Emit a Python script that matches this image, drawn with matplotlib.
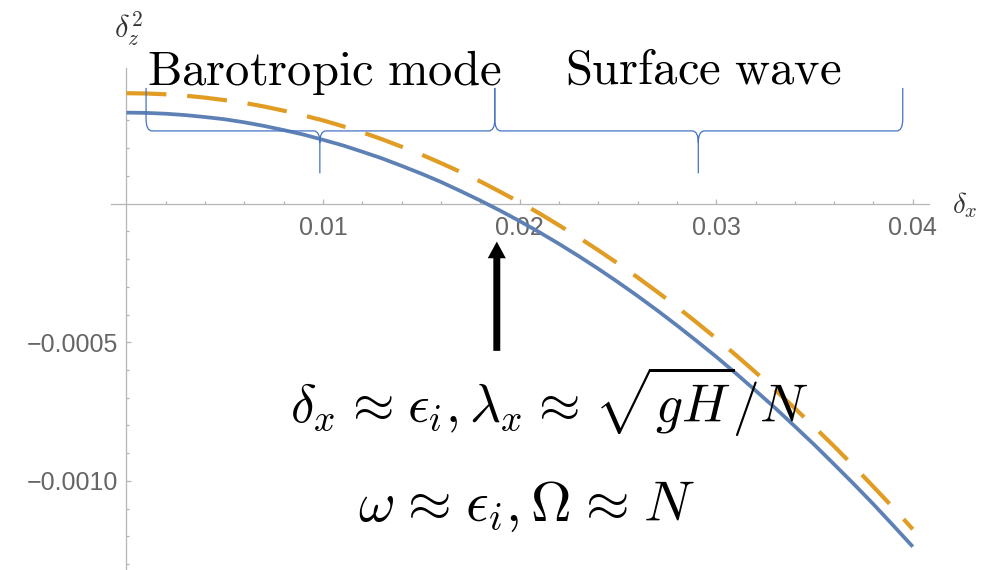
import numpy as np
import matplotlib
matplotlib.use("Agg")
import matplotlib.pyplot as plt
from matplotlib.path import Path
from matplotlib.patches import PathPatch
from matplotlib.ticker import FixedLocator, FixedFormatter

plt.rcParams['mathtext.fontset'] = 'cm'

# ---- data ----
delta_x = [0.000, 0.001, 0.002, 0.003, 0.004, 0.005, 0.006, 0.007, 0.008, 0.009,
           0.010, 0.011, 0.012, 0.013, 0.014, 0.015, 0.016, 0.017, 0.018, 0.019,
           0.020, 0.021, 0.022, 0.023, 0.024, 0.025, 0.026, 0.027, 0.028, 0.029,
           0.030, 0.031, 0.032, 0.033, 0.034, 0.035, 0.036, 0.037, 0.038, 0.039, 0.040]
blue_vals = [0.000328, 0.000327, 0.000324, 0.000319, 0.000312, 0.000304, 0.000293,
             0.000280, 0.000265, 0.000249, 0.000230, 0.000210, 0.000187, 0.000163,
             0.000136, 0.000108, 0.000078, 0.000045, 0.000011, -0.000025, -0.000063,
             -0.000103, -0.000145, -0.000189, -0.000235, -0.000283, -0.000333, -0.000385,
             -0.000439, -0.000495, -0.000552, -0.000612, -0.000674, -0.000737, -0.000803,
             -0.000870, -0.000940, -0.001011, -0.001084, -0.001160, -0.001237]
orange_vals = [0.000398, 0.000397, 0.000394, 0.000389, 0.000382, 0.000373, 0.000363,
               0.000350, 0.000335, 0.000318, 0.000300, 0.000279, 0.000257, 0.000232,
               0.000205, 0.000177, 0.000146, 0.000114, 0.000080, 0.000043, 0.000005,
               -0.000035, -0.000078, -0.000122, -0.000168, -0.000216, -0.000266, -0.000318,
               -0.000372, -0.000428, -0.000486, -0.000546, -0.000608, -0.000672, -0.000738,
               -0.000806, -0.000875, -0.000947, -0.001021, -0.001096, -0.001174]
x_major = [0.01, 0.02, 0.03, 0.04]
x_major_labels = ["0.01", "0.02", "0.03", "0.04"]
y_major = [-0.0010, -0.0005]
y_major_labels = ["\u22120.0010", "\u22120.0005"]

BLUE = '#5E81B5'
ORANGE = '#E19C24'
AXIS = '#b5b5b5'
TICKTXT = '#666666'
BRACE = '#4472C4'

W, H = 981, 570
fig = plt.figure(figsize=(W / 100, H / 100), dpi=100)
ax = fig.add_axes([0, 0, 1, 1])
ax.set_xlim(-0.00643, 0.04347)
ax.set_ylim(-0.001321, 0.000734)

ax.plot(delta_x, blue_vals, color=BLUE, lw=2.7, solid_capstyle='butt',
        solid_joinstyle='round', zorder=3)
ln, = ax.plot(delta_x, orange_vals, color=ORANGE, lw=3.0, zorder=3)
ln.set_dashes((9.6, 5.0))
ln.set_dash_capstyle('butt')

# axes through origin
for s in ['top', 'right']:
    ax.spines[s].set_visible(False)
ax.spines['left'].set_position(('data', 0))
ax.spines['bottom'].set_position(('data', 0))
ax.spines['left'].set_bounds(-0.00135, 0.000489)
ax.spines['bottom'].set_bounds(-0.0008, 0.0408)
for s in ['left', 'bottom']:
    ax.spines[s].set_color(AXIS)
    ax.spines[s].set_linewidth(0.9)

ax.xaxis.set_major_locator(FixedLocator(x_major))
ax.xaxis.set_major_formatter(FixedFormatter(x_major_labels))
ax.xaxis.set_minor_locator(FixedLocator([0.002 * k for k in range(1, 21) if k % 5 != 0]))
ax.yaxis.set_major_locator(FixedLocator(y_major))
ax.yaxis.set_major_formatter(FixedFormatter(y_major_labels))
ax.yaxis.set_minor_locator(FixedLocator([0.0001 * k for k in range(-13, 5) if k % 5 != 0]))

ax.tick_params(axis='both', which='both', direction='in', color=AXIS, width=0.9)
ax.tick_params(axis='both', which='major', length=3.3)
ax.tick_params(axis='both', which='minor', length=2.0)
ax.tick_params(axis='x', which='major', pad=9.0, labelsize=18, labelcolor=TICKTXT)
ax.tick_params(axis='y', which='major', pad=6, labelsize=18, labelcolor=TICKTXT)
for lab in ax.get_xticklabels() + ax.get_yticklabels():
    lab.set_fontfamily('Liberation Sans')


# braces
def brace(x0, x1, xc, y_top, y_mid, y_tip, rh=0.00031, rv=0.000043):
    verts = [(x0, y_top), (x0, y_mid + rv), (x0, y_mid), (x0 + rh, y_mid),
             (xc - rh, y_mid), (xc, y_mid), (xc, y_mid - rv), (xc, y_tip),
             (xc, y_mid - rv), (xc, y_mid), (xc + rh, y_mid),
             (x1 - rh, y_mid), (x1, y_mid), (x1, y_mid + rv), (x1, y_top)]
    codes = [Path.MOVETO, Path.LINETO, Path.CURVE3, Path.CURVE3,
             Path.LINETO, Path.CURVE3, Path.CURVE3, Path.LINETO,
             Path.MOVETO, Path.CURVE3, Path.CURVE3,
             Path.LINETO, Path.CURVE3, Path.CURVE3, Path.LINETO]
    ax.add_patch(PathPatch(Path(verts, codes), fill=False, edgecolor=BRACE, lw=0.9, zorder=4))


brace(0.00100, 0.01874, 0.00984, 0.000417, 0.000262, 0.000109)
brace(0.01874, 0.03949, 0.02909, 0.000417, 0.000262, 0.000109)

# arrow
ax.annotate('', xy=(0.01884, -0.000137), xytext=(0.01884, -0.000531),
            arrowprops=dict(arrowstyle='simple,head_length=12,head_width=13,tail_width=5',
                            mutation_scale=1, color='black', lw=0,
                            shrinkA=0, shrinkB=0), zorder=5)


def px(x, y):
    return x / W, 1 - y / H


ax.text(*px(147, 85), r'$\mathrm{Barotropic\ mode}$', transform=ax.transAxes,
        fontsize=35, va='baseline', ha='left', color='black')
ax.text(*px(565, 84), r'$\mathrm{Surface\ wave}$', transform=ax.transAxes,
        fontsize=35, va='baseline', ha='left', color='black')
ap = r'\hspace{0.09}\approx\hspace{0.09}'
ax.text(*px(290, 423),
        r'$\delta_x' + ap + r'\epsilon_i, \lambda_x' + ap + r'\sqrt{gH}/N$',
        transform=ax.transAxes, fontsize=38.5, va='baseline', ha='left', color='black')
ax.text(*px(358, 521), r'$\omega' + ap + r'\epsilon_i, \Omega' + ap + r'N$',
        transform=ax.transAxes, fontsize=40.5, va='baseline', ha='left', color='black')
ax.text(*px(114, 38), r'$\delta_z^2$', transform=ax.transAxes,
        fontsize=22, va='baseline', ha='left', color='#333333')
ax.text(*px(952, 213), r'$\delta_x$', transform=ax.transAxes,
        fontsize=21, va='baseline', ha='left', color='#333333')

fig.savefig('out.png', dpi=100)
